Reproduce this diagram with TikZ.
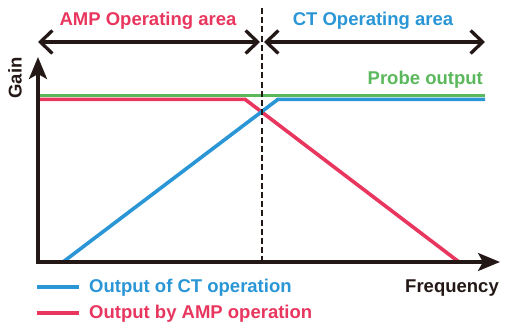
\documentclass[tikz,border=0pt]{standalone}
\usepackage{fontspec}
\setmainfont{Liberation Sans}
\usetikzlibrary{arrows.meta}
\definecolor{ampred}{RGB}{232,54,94}
\definecolor{ctblue}{RGB}{42,150,214}
\definecolor{probegreen}{RGB}{92,184,92}
\definecolor{axisblack}{RGB}{35,24,21}
\tikzset{
  lbl/.style={font=\fontsize{18.5}{20}\selectfont\bfseries, inner sep=0pt},
  axisline/.style={draw=axisblack, line width=3.3pt, -{Stealth[length=22pt,width=18pt,inset=5pt]}},
  rangearrow/.style={draw=axisblack, line width=3.3pt, {Straight Barb[length=12pt,width=23pt,line width=3.3pt]}-{Straight Barb[length=12pt,width=23pt,line width=3.3pt]}},
  curve/.style={line width=3.6pt, line join=miter},
  divider/.style={draw=axisblack, line width=1.5pt, dash pattern=on 6pt off 3.2pt},
}
\begin{document}
\begin{tikzpicture}[x=1pt,y=-1pt]
\useasboundingbox (0,0) rectangle (515,325);
% coordinates
\coordinate (O) at (38,262);
\coordinate (ytip) at (38,57);
\coordinate (xtip) at (500,262);
\coordinate (dtop) at (262,8);
\coordinate (dbot) at (262,262);
\coordinate (aL) at (38,42);
\coordinate (aM1) at (260,42);
\coordinate (aM2) at (264,42);
\coordinate (aR) at (485,42);
\coordinate (g1) at (40,95.5);
\coordinate (g2) at (485,95.5);
\coordinate (r1) at (40,99.3);
\coordinate (r2) at (245,99.3);
\coordinate (r3) at (459,262);
\coordinate (b1) at (63,262);
\coordinate (b2) at (278,99.3);
\coordinate (b3) at (485,99.3);
\coordinate (lb1) at (37,287);
\coordinate (lb2) at (79,287);
\coordinate (lr1) at (37,313);
\coordinate (lr2) at (79,313);
% curves
\draw[curve, probegreen] (g1) -- (g2);
\draw[curve, ampred] (r1) -- (r2) -- (r3);
\draw[curve, ctblue] (b1) -- (b2) -- (b3);
% divider
\draw[divider] (dtop) -- (dbot);
% axes
\draw[axisline] (O) -- (ytip);
\draw[axisline] ([xshift=-1.65pt]O) -- (xtip);
% range arrows
\draw[rangearrow] (aL) -- (aM1);
\draw[rangearrow] (aM2) -- (aR);
% texts
\node[lbl, text=ampred] (amp) at (148,21) {AMP Operating area};
\node[lbl, text=ctblue] (ct) at (373,21) {CT Operating area};
\node[lbl, text=probegreen, anchor=east] (probe) at (483,80) {Probe output};
\node[lbl, text=axisblack, rotate=90] (gain) at (15,78) {Gain};
\node[lbl, text=axisblack, anchor=east] (freq) at (499,288) {Frequency};
% legend
\draw[curve, ctblue] (lb1) -- (lb2);
\draw[curve, ampred] (lr1) -- (lr2);
\node[lbl, text=ctblue, anchor=west] (lgb) at (89,288) {Output of CT operation};
\node[lbl, text=ampred, anchor=west] (lgr) at (89,314) {Output by AMP operation};
\end{tikzpicture}
\end{document}
